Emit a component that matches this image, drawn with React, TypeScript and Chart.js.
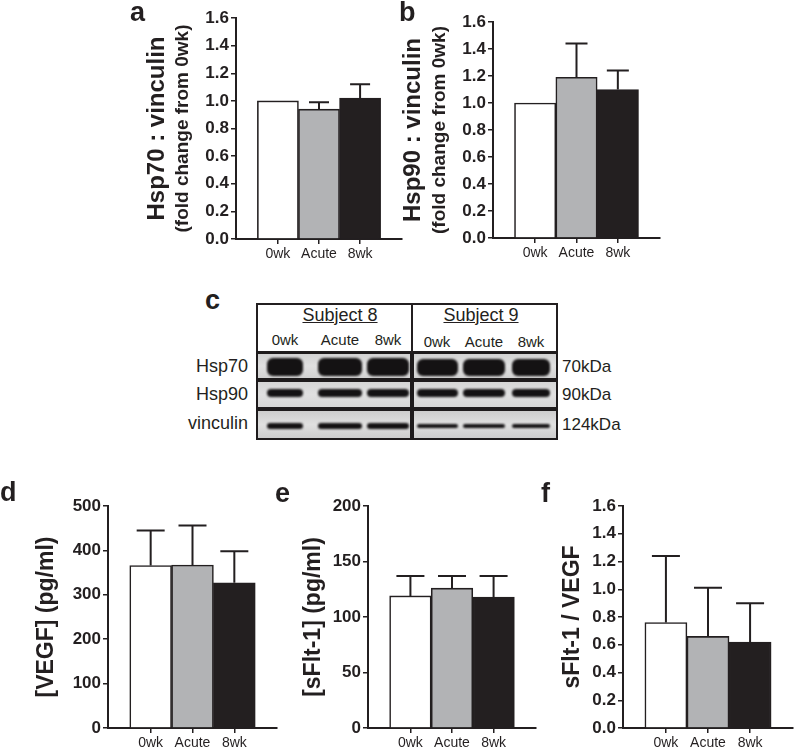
import React, { useEffect, useRef } from 'react';
import { Chart, registerables } from 'chart.js';

Chart.register(...registerables);

const FONT = '"Liberation Sans", Arial, Helvetica, sans-serif';
const INK = '#231f20';

// ---------- data ----------
const CATEGORIES = ['0wk', 'Acute', '8wk'];
const BAR_COLORS = ['#ffffff', '#b2b3b5', '#231f20'];

const HSP70_VALUES = [1.0, 0.94, 1.02];
const HSP70_ERRORS = [0, 0.05, 0.1];
const HSP90_VALUES = [1.0, 1.19, 1.1];
const HSP90_ERRORS = [0, 0.25, 0.14];
const VEGF_VALUES = [366, 367, 327];
const VEGF_ERRORS = [79, 89, 71];
const SFLT_VALUES = [119, 126, 118];
const SFLT_ERRORS = [18, 11, 19];
const RATIO_VALUES = [0.76, 0.66, 0.62];
const RATIO_ERRORS = [0.48, 0.35, 0.28];

// blot annotation
const SUBJECTS = ['Subject 8', 'Subject 9'];
const BLOT_ROWS = ['Hsp70', 'Hsp90', 'vinculin'];
const BLOT_KDA = ['70kDa', '90kDa', '124kDa'];

// ---------- plugins ----------
const errorBarPlugin = {
  id: 'errbars',
  afterDatasetsDraw(chart: any, _a: any, opts: any) {
    const meta = chart.getDatasetMeta(0);
    const ys = chart.scales.y;
    const data = chart.data.datasets[0].data;
    const ctx = chart.ctx;
    ctx.save();
    ctx.strokeStyle = INK;
    ctx.lineWidth = 2;
    meta.data.forEach((el: any, i: number) => {
      const e = opts.errors[i];
      if (!e) return;
      const top = ys.getPixelForValue(data[i].y + e);
      ctx.beginPath();
      ctx.moveTo(el.x, el.y);
      ctx.lineTo(el.x, top);
      ctx.moveTo(el.x - opts.cap / 2, top);
      ctx.lineTo(el.x + opts.cap / 2, top);
      ctx.stroke();
    });
    ctx.restore();
  },
};

const yTitlePlugin = {
  id: 'ytitle',
  afterDraw(chart: any, _a: any, opts: any) {
    const { ctx, chartArea } = chart;
    const cy = (chartArea.top + chartArea.bottom) / 2;
    for (const l of opts.lines || []) {
      ctx.save();
      ctx.translate(chartArea.left - l.dx, cy);
      ctx.rotate(-Math.PI / 2);
      ctx.font = `bold ${l.size}px ${FONT}`;
      ctx.fillStyle = INK;
      ctx.textAlign = 'center';
      ctx.textBaseline = 'middle';
      ctx.fillText(l.text, 0, 0);
      ctx.restore();
    }
  },
};

type PanelProps = {
  left: number; top: number; width: number; height: number;
  yw: number; padTop: number; padRight: number; xh: number;
  yMax: number; yStep: number; decimals: number;
  values: number[]; errors: number[]; cap: number;
  titles: { text: string; size: number; dx: number }[];
};

const XPAD = 0.52;

function BarPanel(p: PanelProps) {
  const ref = useRef<HTMLCanvasElement>(null);
  useEffect(() => {
    if (!ref.current) return;
    const chart = new Chart(ref.current, {
      type: 'bar',
      data: {
        datasets: [
          {
            data: p.values.map((v, i) => ({ x: i, y: v })),
            backgroundColor: BAR_COLORS,
            borderColor: INK,
            borderWidth: 1.6,
            categoryPercentage: 1,
            barPercentage: 1,
          } as any,
        ],
      },
      options: {
        responsive: false,
        animation: false,
        devicePixelRatio: 1,
        layout: { padding: { top: p.padTop, right: p.padRight, bottom: 0, left: 0 } },
        plugins: {
          legend: { display: false },
          tooltip: { enabled: false },
          errbars: { errors: p.errors, cap: p.cap },
          ytitle: { lines: p.titles },
        } as any,
        scales: {
          x: {
            type: 'linear',
            offset: false,
            min: -0.5 - XPAD,
            max: CATEGORIES.length - 0.5 + XPAD,
            afterBuildTicks: (axis: any) => {
              axis.ticks = CATEGORIES.map((_, i) => ({ value: i }));
            },
            afterFit: (s: any) => { s.height = p.xh; },
            ticks: {
              autoSkip: false,
              maxRotation: 0,
              padding: 2,
              color: INK,
              font: { family: FONT, size: 14 },
              callback: (_v: any, i: number) => CATEGORIES[i],
            },
            grid: { display: true, offset: false, drawOnChartArea: false, drawTicks: true, tickLength: 5, color: INK, lineWidth: 1.5 },
            border: { display: true, color: INK, width: 2 },
          } as any,
          y: {
            min: 0,
            max: p.yMax,
            afterFit: (s: any) => { s.width = p.yw; },
            ticks: {
              stepSize: p.yStep,
              padding: 2,
              color: INK,
              font: { family: FONT, size: 17, weight: 'bold' },
              callback: (v: any) => Number(v).toFixed(p.decimals),
            },
            grid: { display: true, drawOnChartArea: false, drawTicks: true, tickLength: 5, color: INK, lineWidth: 1.5 },
            border: { display: true, color: INK, width: 2 },
          } as any,
        },
      },
      plugins: [errorBarPlugin, yTitlePlugin],
    });
    return () => chart.destroy();
  }, []);
  return (
    <canvas
      ref={ref}
      width={p.width}
      height={p.height}
      style={{ position: 'absolute', left: p.left, top: p.top, width: p.width, height: p.height, display: 'block' }}
    />
  );
}

function Letter({ ch, x, baseline }: { ch: string; x: number; baseline: number }) {
  return (
    <div style={{ position: 'absolute', left: x, top: baseline - 23, font: `bold 27px/27px ${FONT}`, color: INK }}>{ch}</div>
  );
}

function Txt({ text, x, cy, size, align = 'left', underline = false }: any) {
  const style: any = {
    position: 'absolute', top: cy - size / 2, font: `${size}px/${size}px ${FONT}`, color: INK,
    whiteSpace: 'nowrap', textDecoration: underline ? 'underline' : 'none',
  };
  if (align === 'left') style.left = x;
  else if (align === 'right') style.right = 800 - x;
  else { style.left = x; style.transform = 'translateX(-50%)'; }
  return <div style={style}>{text}</div>;
}

// blot layout (pixel geometry of the photograph)
const LANES = [[285, 340, 388], [437, 484, 531]];
const BAND_W = [[36, 44, 42], [41, 42, 38]];
const ROW_GEOM = [
  { top: 354, bottom: 378, band: [18, 17], cy: 367, bg: '#d2d2d2' },
  { top: 382, bottom: 407, band: [8, 8], cy: 393, bg: '#d6d6d6' },
  { top: 411, bottom: 438, band: [6, 4], cy: 426, bg: '#cdcdcd' },
];
const HALF_X = [[258, 410], [414, 556]];

function Blot() {
  const items: any[] = [];
  items.push(<div key="box" style={{ position: 'absolute', left: 256, top: 303, width: 302, height: 137, boxSizing: 'border-box', border: `2px solid ${INK}`, background: '#fff' }} />);
  items.push(<div key="blk" style={{ position: 'absolute', left: 256, top: 351, width: 302, height: 89, background: '#1e1b1c' }} />);
  items.push(<div key="div" style={{ position: 'absolute', left: 411, top: 303, width: 2, height: 50, background: INK }} />);
  ROW_GEOM.forEach((r, ri) => {
    HALF_X.forEach((h, hi) => {
      items.push(
        <div key={`c${ri}${hi}`} style={{ position: 'absolute', left: h[0], top: r.top, width: h[1] - h[0], height: r.bottom - r.top, background: `linear-gradient(180deg, ${r.bg}, #e0e0e0 50%, ${r.bg})` }} />
      );
      LANES[hi].forEach((cx, li) => {
        const w = BAND_W[hi][li];
        const bh = r.band[hi];
        items.push(
          <div key={`b${ri}${hi}${li}`} style={{ position: 'absolute', left: cx - w / 2, top: r.cy - bh / 2, width: w, height: bh, background: '#141213', borderRadius: `${Math.min(6, bh / 2)}px`, filter: 'blur(0.8px)' }} />
        );
      });
    });
    items.push(<Txt key={`rl${ri}`} text={BLOT_ROWS[ri]} x={248} cy={[366, 394, 423][ri]} size={18} align="right" />);
    items.push(<Txt key={`kd${ri}`} text={BLOT_KDA[ri]} x={562} cy={[366, 394, 424][ri]} size={17} />);
  });
  SUBJECTS.forEach((s, i) => {
    items.push(<Txt key={`s${i}`} text={s} x={[340, 481][i]} cy={315} size={18} align="center" underline />);
    CATEGORIES.forEach((c, j) => {
      items.push(<Txt key={`l${i}${j}`} text={c} x={LANES[i][j]} cy={[339, 341][i]} size={15} align="center" />);
    });
  });
  return <>{items}</>;
}

export default function App() {
  return (
    <div style={{ position: 'absolute', left: 0, top: 0, width: 800, height: 749, background: '#fff', overflow: 'hidden' }}>
      <BarPanel left={120} top={0} width={300} height={270} yw={116} padTop={18} padRight={18} xh={31}
        yMax={1.6} yStep={0.2} decimals={1} values={HSP70_VALUES} errors={HSP70_ERRORS} cap={20}
        titles={[{ text: 'Hsp70 : vinculin', size: 24, dx: 79 }, { text: '(fold change from 0wk)', size: 19, dx: 53 }]} />
      <BarPanel left={400} top={0} width={280} height={270} yw={93} padTop={22} padRight={20} xh={32}
        yMax={1.6} yStep={0.2} decimals={1} values={HSP90_VALUES} errors={HSP90_ERRORS} cap={22}
        titles={[{ text: 'Hsp90 : vinculin', size: 24, dx: 80 }, { text: '(fold change from 0wk)', size: 19, dx: 53 }]} />
      <BarPanel left={0} top={480} width={290} height={269} yw={108} padTop={26} padRight={13} xh={21}
        yMax={500} yStep={100} decimals={0} values={VEGF_VALUES} errors={VEGF_ERRORS} cap={28}
        titles={[{ text: '[VEGF] (pg/ml)', size: 23, dx: 61 }]} />
      <BarPanel left={260} top={480} width={290} height={269} yw={108} padTop={26} padRight={14} xh={21}
        yMax={200} yStep={50} decimals={0} values={SFLT_VALUES} errors={SFLT_ERRORS} cap={28}
        titles={[{ text: '[sFlt-1] (pg/ml)', size: 23, dx: 54 }]} />
      <BarPanel left={510} top={480} width={290} height={269} yw={113} padTop={26} padRight={7} xh={21}
        yMax={1.6} yStep={0.2} decimals={1} values={RATIO_VALUES} errors={RATIO_ERRORS} cap={28}
        titles={[{ text: 'sFlt-1 / VEGF', size: 23, dx: 50 }]} />
      <Blot />
      <Letter ch="a" x={130} baseline={22} />
      <Letter ch="b" x={399} baseline={22} />
      <Letter ch="c" x={205} baseline={310} />
      <Letter ch="d" x={0} baseline={502} />
      <Letter ch="e" x={275} baseline={503} />
      <Letter ch="f" x={541} baseline={503} />
    </div>
  );
}
